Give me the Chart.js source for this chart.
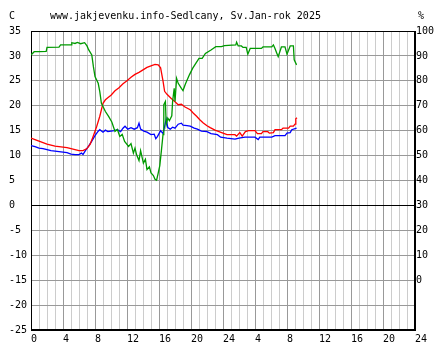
<!DOCTYPE html>
<html>
<head>
<meta charset="utf-8">
<script src="https://cdn.jsdelivr.net/npm/chart.js@4/dist/chart.umd.min.js"></script>
<style>
  html, body { margin: 0; padding: 0; background: #fff; }
  #wrap { width: 444px; height: 360px; position: relative; }
</style>
</head>
<body>
<div id="wrap"><canvas id="meteo"></canvas></div>
<script>
// data, hours since start (0..48)
const titleText = 'www.jakjevenku.info-Sedlcany, Sv.Jan-rok 2025';

const redHours = [0,0.5,1,1.5,2,2.5,3,3.5,4,4.5,5,5.5,6,6.5,7,7.4,7.8,8.2,8.6,9,9.3,9.6,10,10.5,11,11.5,12,12.5,13,13.5,14,14.5,15,15.5,15.9,16.2,16.5,16.7,17,17.5,18,18.4,18.8,19.2,19.9,20.3,20.7,21.1,21.5,22,22.4,23,23.5,24,24.5,25,25.5,25.7,26.1,26.4,26.8,27.2,28,28.3,28.8,29,29.6,29.8,30.3,30.5,31.3,31.5,32.2,32.4,32.8,33,33.1,33.25];
const redTemp = [13.5,13.2,12.9,12.6,12.3,12.1,11.9,11.8,11.7,11.6,11.4,11.2,11.0,11.0,11.4,12.3,14.0,15.8,17.9,20.5,21.2,21.6,22.1,23.0,23.6,24.4,25.0,25.7,26.3,26.7,27.2,27.7,28.0,28.3,28.2,27.6,25.0,22.9,22.3,21.5,20.8,20.2,20.3,19.8,19.2,18.5,17.9,17.2,16.6,16.0,15.6,15.1,14.8,14.5,14.2,14.2,14.2,13.9,14.6,13.9,14.8,15.0,15.0,14.4,14.4,14.8,14.8,14.5,14.6,15.2,15.2,15.5,15.5,15.9,15.9,16.3,17.4,17.6];

const blueHours = [0,0.5,1,1.5,2,2.5,3,3.5,4,4.5,5,5.5,6,6.3,6.5,6.8,7.2,7.6,8,8.4,8.6,9,9.3,9.6,10,10.4,10.8,11.2,11.5,11.75,12.1,12.5,12.9,13.3,13.5,13.7,14.1,14.5,15,15.4,15.6,15.8,16.2,16.5,16.9,17.1,17.4,17.7,18,18.4,18.8,19,19.5,19.9,20.4,20.8,21.3,22,22.5,23.3,23.7,24.5,25,25.5,26,26.75,28,28.4,28.6,30.1,30.5,31.75,32,32.4,32.6,33.2];
const blueTemp = [12.0,11.8,11.5,11.4,11.2,11.0,10.9,10.8,10.7,10.6,10.3,10.2,10.2,10.5,10.2,11.0,11.9,12.9,14.0,14.9,15.2,14.7,15.1,14.8,14.9,15.0,15.2,14.8,15.5,15.9,15.3,15.6,15.3,15.6,16.5,15.3,14.9,14.7,14.2,14.3,13.4,13.8,15.0,14.4,17.3,15.6,15.3,15.7,15.5,16.3,16.5,16.1,16.0,15.9,15.5,15.3,14.9,14.8,14.4,14.2,13.7,13.5,13.4,13.3,13.5,13.7,13.7,13.2,13.7,13.7,14.0,14.0,14.5,14.6,15.2,15.5];

const greenHours = [0,0.4,1,1.9,2,3.5,3.7,5,5.1,5.5,5.8,6.2,6.7,7,7.2,7.6,7.8,8,8.4,8.6,8.8,9.3,9.7,10.1,10.5,10.8,11.1,11.4,11.7,12.2,12.5,12.8,13,13.2,13.5,13.7,14.05,14.3,14.5,14.8,15,15.3,15.5,15.7,15.9,16.1,16.3,16.5,16.6,16.8,16.9,17.1,17.3,17.6,17.7,17.9,18,18.2,18.4,18.8,19,19.3,19.8,20.2,20.6,21,21.4,21.8,22.5,23.1,23.8,24.2,25.6,25.7,25.9,26.3,26.5,26.9,27.1,27.4,28.8,29,30.1,30.3,30.5,30.7,30.9,31.3,31.75,32,32.4,32.8,32.9,33.2];
const greenHum = [90.4,91.7,91.7,91.8,93.4,93.5,94.4,94.4,95.3,95.0,95.4,94.9,95.3,94.0,92.5,90.4,85.7,81.7,79,75.7,71,67.7,65.7,63.5,59.7,60.5,57.7,58.5,55.7,53.7,54.8,51,53,50.3,48,52,47,48.5,44.4,45.5,43.0,42.0,40.5,40.1,43,46,52,58.4,70.4,71.7,62.4,65,64,66,71.7,77,71.7,81,79,77,76.1,78.7,82.4,85,87,89,89,91,92.4,93.7,93.7,94.1,94.4,95.5,94,94,93.4,93.4,90.7,93,93,93.6,93.6,94.4,93,91.3,89.7,93.6,93.6,90.7,94,94,88.4,86.4];

const hourTicks = [0,4,8,12,16,20,24,28,32,36,40,44,48];

function pairs(xs, ys) {
    return xs.map((x, i) => ({ x: x, y: ys[i] }));
}

// header texts and the black frame around the plot
const framePlugin = {
    id: 'frame',
    beforeDatasetsDraw(chart) {
        const { ctx, chartArea: a } = chart;
        ctx.save();
        ctx.strokeStyle = '#000';
        ctx.lineWidth = 1;
        ctx.strokeRect(Math.round(a.left) + 0.5, Math.round(a.top) + 0.5,
            Math.round(a.right - a.left) - 1, Math.round(a.bottom - a.top) - 1);
        ctx.restore();
    },
    afterDraw(chart) {
        const ctx = chart.ctx;
        ctx.save();
        ctx.fillStyle = '#000';
        ctx.font = '10px "DejaVu Sans Mono"';
        ctx.textBaseline = 'middle';
        ctx.textAlign = 'left';
        ctx.fillText('C', 9, 16);
        ctx.fillText(titleText, 50, 16);
        ctx.fillText('%', 418, 16);
        ctx.restore();
    }
};

Chart.defaults.font.family = '"DejaVu Sans Mono", monospace';
Chart.defaults.font.size = 10;
Chart.defaults.color = '#000';

const ctx = document.getElementById('meteo').getContext('2d');
new Chart(ctx, {
    type: 'line',
    data: {
        datasets: [
            { data: pairs(greenHours, greenHum), yAxisID: 'y2', borderColor: '#009a00' },
            { data: pairs(redHours, redTemp), yAxisID: 'y', borderColor: '#ff0000' },
            { data: pairs(blueHours, blueTemp), yAxisID: 'y', borderColor: '#0000ff' }
        ]
    },
    options: {
        responsive: true,
        maintainAspectRatio: false,
        animation: false,
        layout: { padding: { left: 9, right: 0, top: 31, bottom: 0 } },
        elements: {
            point: { radius: 0 },
            line: { borderWidth: 1.3, tension: 0 }
        },
        plugins: { legend: { display: false }, tooltip: { enabled: false } },
        scales: {
            x: {
                type: 'linear',
                min: 0,
                max: 48,
                afterFit: s => { s.height = 30; },
                afterBuildTicks: s => {
                    s.ticks = [];
                    for (let h = 0; h <= 48; h++) s.ticks.push({ value: h });
                },
                ticks: {
                    autoSkip: false,
                    maxRotation: 0,
                    align: 'start',
                    padding: 3,
                    callback: v => {
                        if (!hourTicks.includes(v)) return '';
                        if (v === 0) return '0';
                        return String(v % 24 === 0 ? 24 : v % 24);
                    }
                },
                grid: {
                    drawTicks: false,
                    color: c => (c.tick && c.tick.value % 4 === 0) ? '#999999' : '#cccccc'
                },
                border: { color: '#000' }
            },
            y: {
                position: 'left',
                min: -25,
                max: 35,
                afterFit: s => { s.width = 22; },
                ticks: {
                    stepSize: 2.5,
                    crossAlign: 'far',
                    padding: 0,
                    callback: v => (v % 5 === 0 ? String(v) : '')
                },
                grid: {
                    drawTicks: false,
                    color: c => (c.tick && c.tick.value === 0) ? '#000000' : '#999999'
                },
                border: { color: '#000' }
            },
            y2: {
                position: 'right',
                min: -20,
                max: 100,
                afterFit: s => { s.width = 29; },
                ticks: {
                    stepSize: 5,
                    padding: 1,
                    callback: v => (v >= 0 && v % 10 === 0 ? String(v) : '')
                },
                grid: { display: false, drawTicks: false },
                border: { color: '#000' }
            }
        }
    },
    plugins: [framePlugin]
});
</script>
</body>
</html>
